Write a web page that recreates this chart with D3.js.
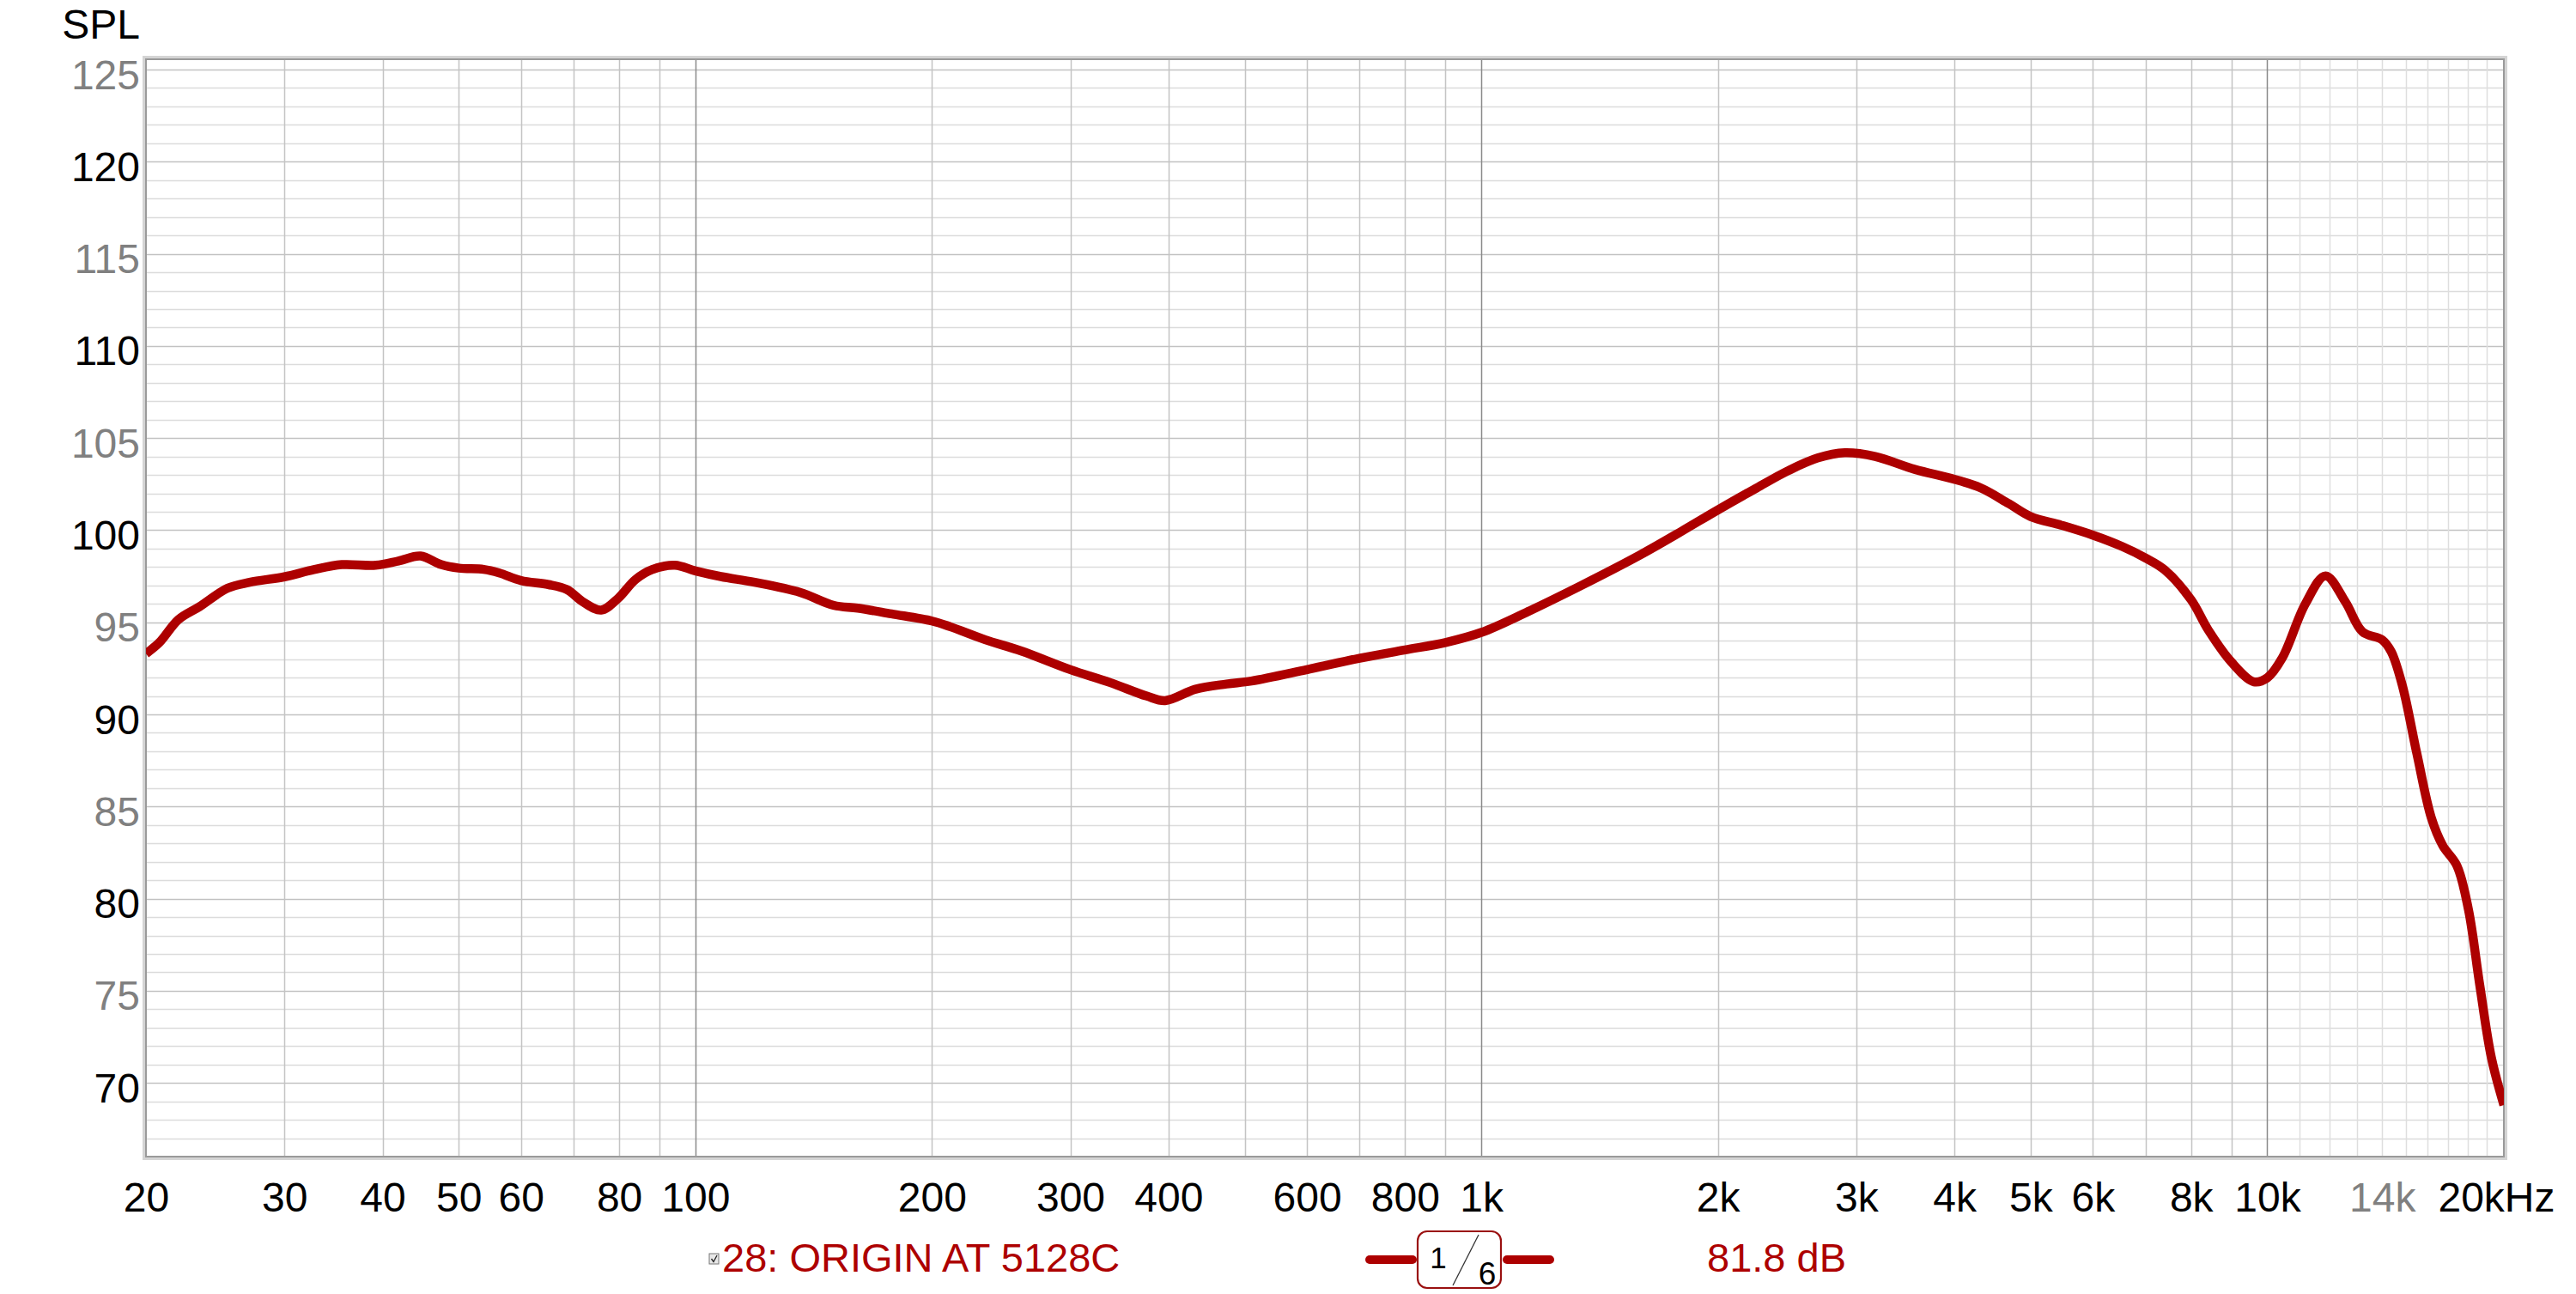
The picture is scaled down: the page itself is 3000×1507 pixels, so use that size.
<!DOCTYPE html>
<html>
<head>
<meta charset="utf-8">
<script src="https://cdn.jsdelivr.net/npm/d3@7"></script>
<style>
  html, body { margin: 0; padding: 0; background: #fff; }
  svg { display: block; }
  text { font-family: "Liberation Sans", Arial, sans-serif; }
</style>
</head>
<body>
<svg id="chart" width="3000" height="1507"></svg>
<script>
// ---- data ----
const freqs = [20, 20.8, 22, 23.4, 25.4, 27.1, 30, 32.7, 35.5, 39.2, 41.9, 44.7, 47.5, 50, 53.8, 56.3, 60, 65,
  68.6, 72.1, 75.9, 79.8, 83.9, 88.2, 94.2, 100, 107.8, 119, 136, 150, 161, 177.6, 200, 211, 233.5, 260,
  300, 337, 375, 396, 433, 474, 510, 600, 700, 800, 900, 1000, 1141, 1342, 1590, 1800, 2000, 2240, 2455,
  2680, 2900, 3170, 3560, 4000, 4320, 4690, 5000, 5470, 6000, 6540, 7000, 7400, 8000, 8410, 9000,
  9616, 10000, 10450, 11180, 11860, 12570, 13220, 14000, 14380, 14860, 15500, 16170, 16720, 17430, 18030,
  18640, 19280, 20000];
const spl = [93.3, 93.9, 95.15, 95.85, 96.85, 97.17, 97.47, 97.86, 98.13, 98.1, 98.33, 98.6, 98.13, 97.94, 97.87, 97.68, 97.27, 97.05,
  96.78, 96.08, 95.66, 96.31, 97.32, 97.87, 98.1, 97.79, 97.48, 97.17, 96.62, 95.92, 95.77, 95.46, 95.07, 94.76, 94.06, 93.44,
  92.43, 91.73, 91.0, 90.75, 91.37, 91.65, 91.81, 92.43, 93.05, 93.5, 93.9, 94.45, 95.54, 97.01, 98.64, 99.95, 101.1, 102.29, 103.22,
  103.92, 104.2, 104.0, 103.3, 102.76, 102.29, 101.44, 100.74, 100.27, 99.73, 99.11, 98.49, 97.85, 96.22, 94.59, 92.85,
  91.77, 91.99, 93.07, 96.0, 97.52, 96.11, 94.48, 94.05, 93.4, 91.55, 87.87, 84.39, 82.88, 81.79, 79.4,
  75.28, 71.38, 68.8];

const yTickValues = [125, 120, 115, 110, 105, 100, 95, 90, 85, 80, 75, 70];
const yTickGrey = [125, 115, 105, 95, 85, 75];
const xTickValues = [20, 30, 40, 50, 60, 80, 100, 200, 300, 400, 600, 800, 1000, 2000, 3000, 4000, 5000, 6000, 8000, 10000, 14000, 20000];
const xTickLabels = ["20", "30", "40", "50", "60", "80", "100", "200", "300", "400", "600", "800", "1k", "2k", "3k", "4k", "5k", "6k", "8k", "10k", "14k", "20kHz"];
const xTickGrey = [14000];
const yAxisTitle = "SPL";
const legendName = "28: ORIGIN AT 5128C";
const legendLevel = "81.8 dB";
const smoothNum = "1", smoothDen = "6";

// ---- layout ----
const L = 170, R = 2916, T = 69, B = 1347;
const curveColor = "#AD0000";
const svg = d3.select("#chart");

const x = d3.scaleLog().domain([20, 20000]).range([L, R]);
const y = d3.scaleLinear().domain([66, 125.56]).range([B, T]);

// grid
const grid = svg.append("g");
const hMinor = d3.range(66, 126, 1).filter(v => v % 5 !== 0);
const hMajor = d3.range(70, 126, 5);
grid.selectAll(".hmin").data(hMinor).enter().append("line")
  .attr("x1", L).attr("x2", R).attr("y1", d => Math.round(y(d)) + 0.5).attr("y2", d => Math.round(y(d)) + 0.5)
  .attr("stroke", "#dcdcdc").attr("stroke-width", 1.5);
grid.selectAll(".hmaj").data(hMajor).enter().append("line")
  .attr("x1", L).attr("x2", R).attr("y1", d => Math.round(y(d)) + 0.5).attr("y2", d => Math.round(y(d)) + 0.5)
  .attr("stroke", "#c2c2c2").attr("stroke-width", 1.5);

const vLines = [];
[10, 100, 1000, 10000].forEach(dec => {
  for (let m = 1; m <= 9; m++) {
    const f = dec * m;
    if (f > 20 && f < 20000) vLines.push({f, kind: m === 1 ? "dec" : "mid"});
  }
});
for (let f = 11000; f < 20000; f += 1000) vLines.push({f, kind: "fine"});
const vColor = {dec: "#8a8a8a", mid: "#c4c4c4", fine: "#dedede"};
grid.selectAll(".v").data(vLines).enter().append("line")
  .attr("x1", d => Math.round(x(d.f)) + 0.5).attr("x2", d => Math.round(x(d.f)) + 0.5)
  .attr("y1", T).attr("y2", B)
  .attr("stroke", d => vColor[d.kind]).attr("stroke-width", 1.5);

// frame
svg.append("rect").attr("x", L - 2.5).attr("y", T - 2.5).attr("width", R - L + 5).attr("height", B - T + 5)
  .attr("fill", "none").attr("stroke", "#d4d4d4").attr("stroke-width", 3);
svg.append("rect").attr("x", L).attr("y", T).attr("width", R - L).attr("height", B - T)
  .attr("fill", "none").attr("stroke", "#9a9a9a").attr("stroke-width", 2);

// curve
svg.append("clipPath").attr("id", "clip").append("rect")
  .attr("x", L).attr("y", T).attr("width", R - L).attr("height", B - T);
const pts = freqs.map((f, i) => [f, spl[i]]);
const line = d3.line().x(d => x(d[0])).y(d => y(d[1])).curve(d3.curveCatmullRom.alpha(0.5));
svg.append("path").datum(pts).attr("d", line)
  .attr("clip-path", "url(#clip)")
  .attr("fill", "none").attr("stroke", curveColor).attr("stroke-width", 10.5)
  .attr("stroke-linejoin", "round").attr("stroke-linecap", "butt");

// y axis
const yAxis = d3.axisLeft(y).tickValues(yTickValues).tickSize(0).tickPadding(0).tickFormat(d3.format("d"));
const gy = svg.append("g").attr("transform", `translate(${L - 7},0)`).call(yAxis);
gy.select(".domain").remove();
gy.selectAll("text").attr("font-size", 48).attr("dy", "0.46em")
  .attr("font-family", '"Liberation Sans", Arial, sans-serif')
  .attr("fill", d => yTickGrey.includes(d) ? "#808080" : "#000");

svg.append("text").attr("x", 163).attr("y", 45).attr("text-anchor", "end")
  .attr("font-size", 48).attr("fill", "#000").text(yAxisTitle);

// x axis
const xAxis = d3.axisBottom(x).tickValues(xTickValues).tickSize(0).tickPadding(0)
  .tickFormat((d, i) => xTickLabels[i]);
const gx = svg.append("g").attr("transform", `translate(0,${B})`).call(xAxis);
gx.select(".domain").remove();
gx.selectAll("text").attr("font-size", 48).attr("dy", null).attr("y", 64)
  .attr("font-family", '"Liberation Sans", Arial, sans-serif')
  .attr("fill", d => xTickGrey.includes(d) ? "#808080" : "#000");
gx.selectAll(".tick").filter(d => d === 20000).select("text").attr("dx", -9);

// legend
const lg = svg.append("g");
lg.append("rect").attr("x", 826).attr("y", 1460).attr("width", 11).attr("height", 12)
  .attr("fill", "#e8e8e8").attr("stroke", "#777").attr("stroke-width", 1);
lg.append("path").attr("d", "M828.5,1466 L831,1469.5 L835,1462")
  .attr("fill", "none").attr("stroke", "#222").attr("stroke-width", 1.3);
lg.append("text").attr("x", 841).attr("y", 1481).attr("font-size", 47).attr("fill", curveColor).text(legendName);

lg.append("line").attr("x1", 1595).attr("x2", 1645).attr("y1", 1467).attr("y2", 1467)
  .attr("stroke", curveColor).attr("stroke-width", 10).attr("stroke-linecap", "round");
lg.append("line").attr("x1", 1755).attr("x2", 1805).attr("y1", 1467).attr("y2", 1467)
  .attr("stroke", curveColor).attr("stroke-width", 10).attr("stroke-linecap", "round");
lg.append("rect").attr("x", 1651).attr("y", 1434).attr("width", 97).attr("height", 66).attr("rx", 11)
  .attr("fill", "#fff").attr("stroke", "#9a1010").attr("stroke-width", 2.2);
lg.append("line").attr("x1", 1722).attr("y1", 1438).attr("x2", 1692).attr("y2", 1497)
  .attr("stroke", "#333").attr("stroke-width", 1.3);
lg.append("text").attr("x", 1675).attr("y", 1477).attr("text-anchor", "middle").attr("font-size", 35).attr("fill", "#000").text(smoothNum);
lg.append("text").attr("x", 1732).attr("y", 1496).attr("text-anchor", "middle").attr("font-size", 37).attr("fill", "#000").text(smoothDen);

lg.append("text").attr("x", 1988).attr("y", 1481).attr("font-size", 47).attr("fill", curveColor).text(legendLevel);
</script>
</body>
</html>
